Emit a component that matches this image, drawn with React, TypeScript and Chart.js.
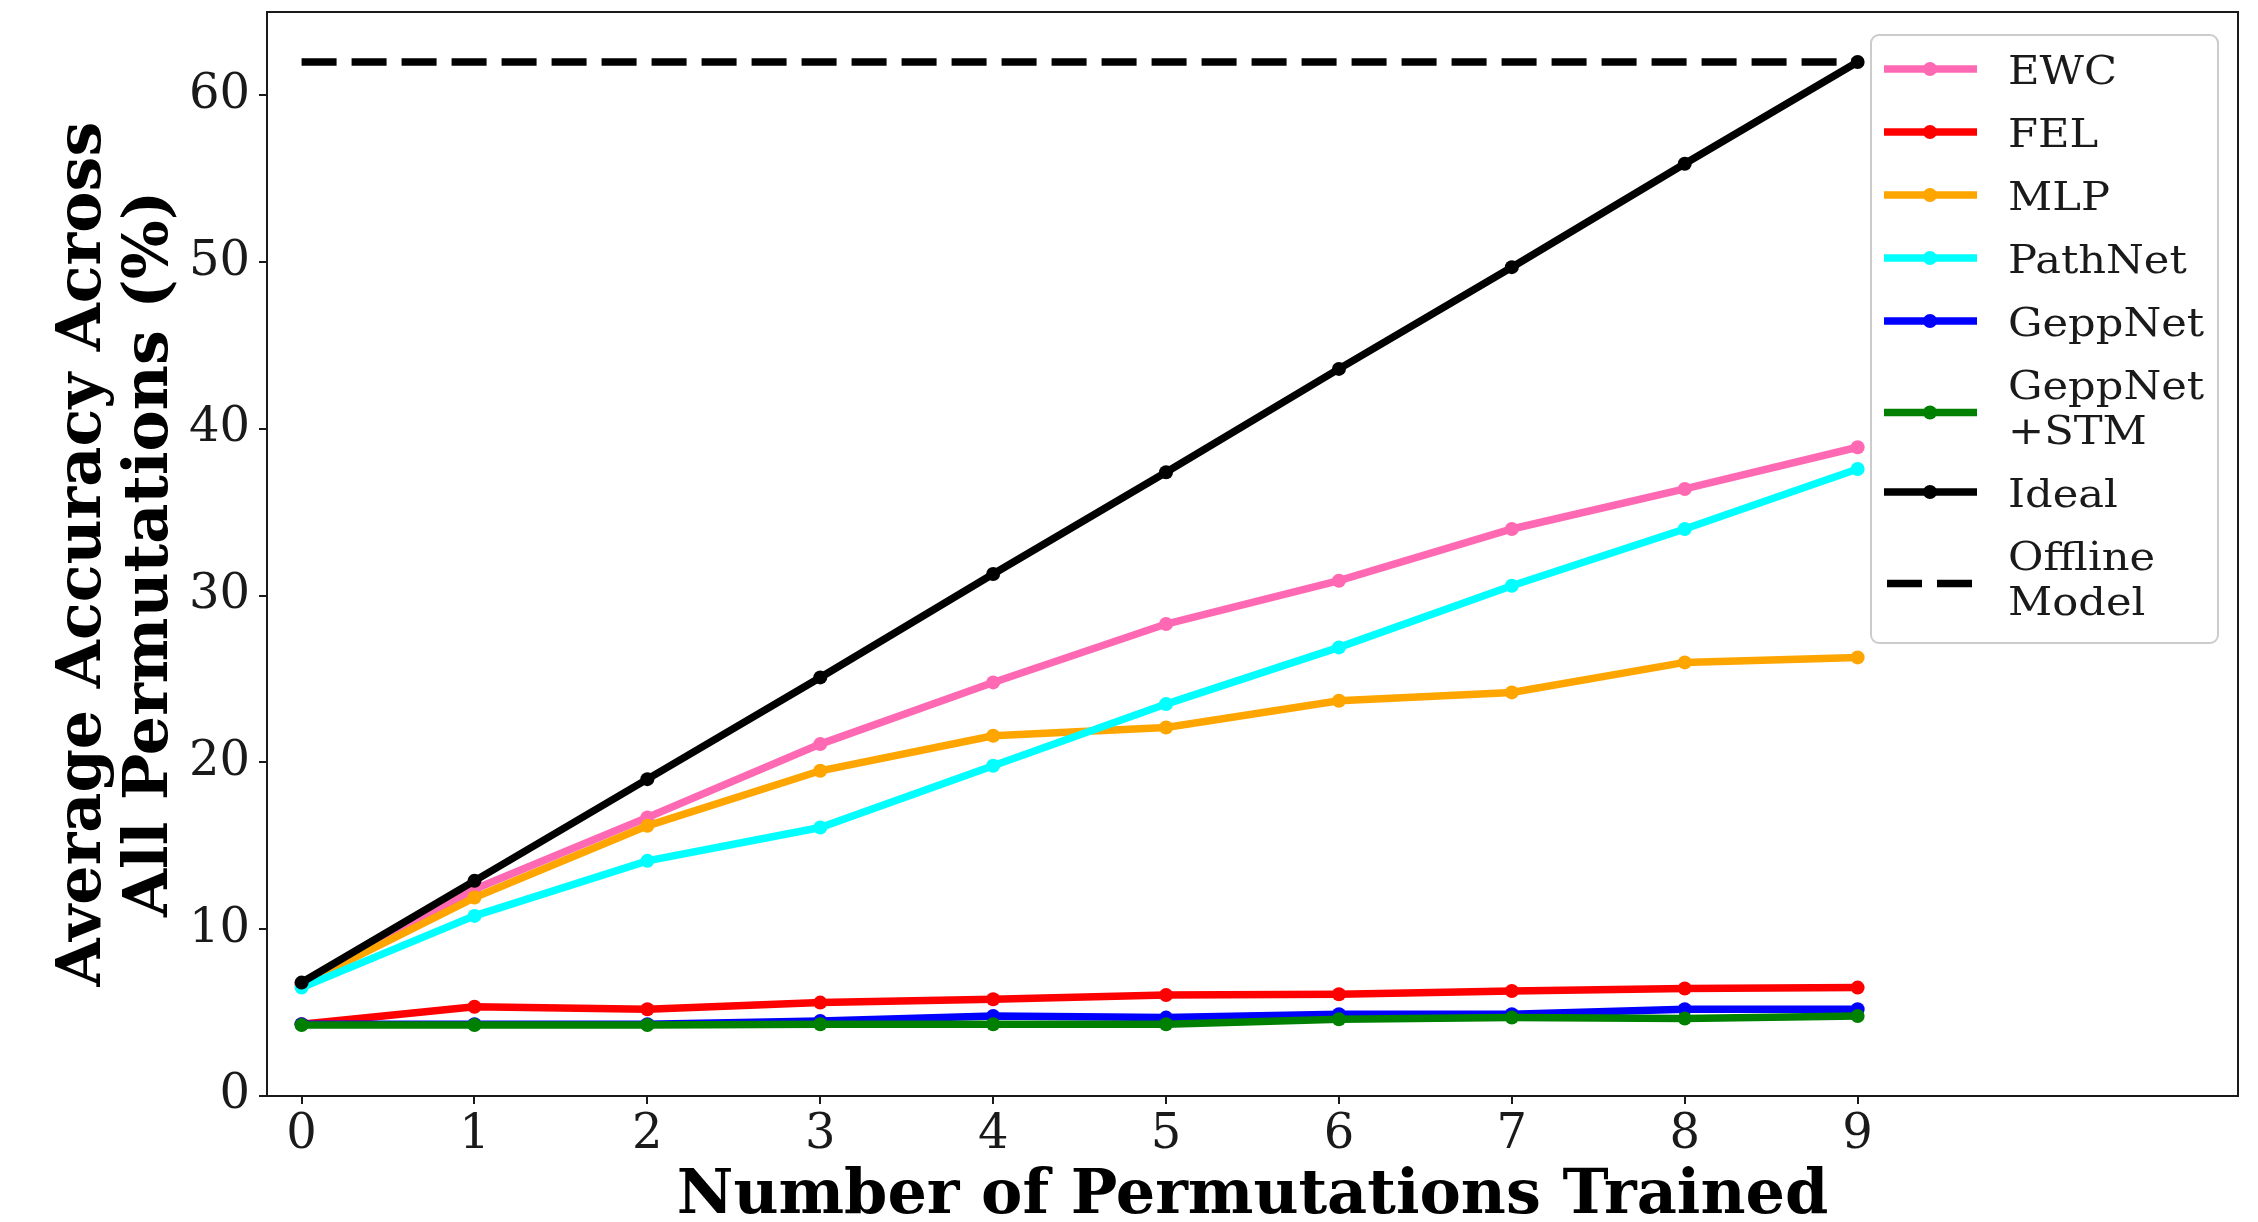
import React, { useEffect, useRef } from "react";
import { Chart, registerables } from "chart.js";

Chart.register(...registerables);

const permutations = [0, 1, 2, 3, 4, 5, 6, 7, 8, 9];
const ewc = [6.7, 12.4, 16.7, 21.1, 24.8, 28.3, 30.9, 34.0, 36.4, 38.9];
const fel = [4.3, 5.35, 5.2, 5.6, 5.8, 6.05, 6.1, 6.3, 6.45, 6.5];
const mlp = [6.7, 11.9, 16.2, 19.5, 21.6, 22.1, 23.7, 24.2, 26.0, 26.3];
const pathnet = [6.5, 10.8, 14.1, 16.1, 19.8, 23.5, 26.9, 30.6, 34.0, 37.6];
const geppnet = [4.3, 4.3, 4.3, 4.5, 4.8, 4.7, 4.9, 4.9, 5.2, 5.2];
const geppnetStm = [4.25, 4.25, 4.25, 4.3, 4.3, 4.3, 4.6, 4.7, 4.65, 4.8];
const ideal = [6.8, 12.9, 19.0, 25.1, 31.3, 37.4, 43.6, 49.7, 55.9, 62.0];
const offlineX = [0, 9];
const offlineY = [62.0, 62.0];

const seriesLabels = [
  ["EWC"],
  ["FEL"],
  ["MLP"],
  ["PathNet"],
  ["GeppNet"],
  ["GeppNet", "+STM"],
  ["Ideal"],
  ["Offline", "Model"],
];
const seriesColors = ["#ff69b4", "#ff0000", "#ffa500", "#00ffff", "#0000ff", "#008000", "#000000", "#000000"];
const xTitle = "Number of Permutations Trained";
const yTitleLines = ["Average Accuracy Across", "All Permutations (%)"];
const yTicks = [0, 10, 20, 30, 40, 50, 60];
const xTicks = permutations;

const LW = 7.5;
const PR = 7;

const pts = (xs: number[], ys: number[]) => xs.map((x, i) => ({ x, y: ys[i] }));

const decorPlugin = {
  id: "decor",
  afterDraw(chart: any) {
    const ctx = chart.ctx as CanvasRenderingContext2D;
    const a = chart.chartArea;
    ctx.save();
    ctx.strokeStyle = "#1a1a1a";
    ctx.lineWidth = 2;
    ctx.beginPath();
    ctx.moveTo(a.left, a.top);
    ctx.lineTo(a.right, a.top);
    ctx.lineTo(a.right, a.bottom);
    ctx.stroke();

    ctx.fillStyle = "#000";
    ctx.font = "bold 62px 'DejaVu Serif'";
    ctx.textAlign = "center";
    ctx.textBaseline = "alphabetic";
    ctx.fillText(xTitle, (a.left + a.right) / 2, 1213);

    const cy = (a.top + a.bottom) / 2;
    const baseXs = [100, 167];
    yTitleLines.forEach((t, i) => {
      ctx.save();
      ctx.translate(baseXs[i], cy);
      ctx.rotate(-Math.PI / 2);
      ctx.fillText(t, 0, 0);
      ctx.restore();
    });

    const bx = 1871, by = 35, bw = 2218 - 1871, bh = 643 - 35;
    ctx.beginPath();
    (ctx as any).roundRect(bx, by, bw, bh, 8);
    ctx.fillStyle = "rgba(255,255,255,0.85)";
    ctx.fill();
    ctx.strokeStyle = "#cccccc";
    ctx.lineWidth = 2;
    ctx.stroke();

    let cursor = 37.5;
    const rowH = 63;
    const lineGap = 45;
    seriesLabels.forEach((lines, i) => {
      const n = lines.length;
      const blockH = rowH + lineGap * (n - 1);
      const center = cursor + blockH / 2;
      const hy = center + (n > 1 ? 6 : 0);
      const color = seriesColors[i];
      ctx.strokeStyle = color;
      ctx.lineWidth = LW;
      ctx.lineCap = "butt";
      if (i === seriesLabels.length - 1) {
        ctx.setLineDash([35, 15]);
        ctx.beginPath();
        ctx.moveTo(1887, hy);
        ctx.lineTo(1972, hy);
        ctx.stroke();
        ctx.setLineDash([]);
      } else {
        ctx.beginPath();
        ctx.moveTo(1884, hy);
        ctx.lineTo(1977, hy);
        ctx.stroke();
        ctx.fillStyle = color;
        ctx.beginPath();
        ctx.arc(1930, hy, PR, 0, Math.PI * 2);
        ctx.fill();
      }
      ctx.fillStyle = "#1a1a1a";
      ctx.font = "40px 'DejaVu Serif'";
      ctx.textAlign = "left";
      ctx.textBaseline = "alphabetic";
      lines.forEach((t, k) => {
        const capC = center - (lineGap * (n - 1)) / 2 + lineGap * k;
        ctx.save();
        ctx.translate(2008, capC + 14.5);
        ctx.scale(1.08, 1);
        ctx.fillText(t, 0, 0);
        ctx.restore();
      });
      cursor += blockH;
    });
    ctx.restore();
  },
};

export default function App() {
  const ref = useRef<HTMLCanvasElement | null>(null);
  useEffect(() => {
    if (!ref.current) return;
    const series = [ewc, fel, mlp, pathnet, geppnet, geppnetStm, ideal];
    const datasets: any[] = series.map((ys, i) => ({
      label: seriesLabels[i].join(" "),
      data: pts(permutations, ys),
      borderColor: seriesColors[i],
      backgroundColor: seriesColors[i],
      pointBackgroundColor: seriesColors[i],
      pointBorderWidth: 0,
      pointRadius: PR,
      borderWidth: LW,
      tension: 0,
      fill: false,
      order: 20 - i,
    }));
    datasets.push({
      label: seriesLabels[7].join(" "),
      data: pts(offlineX, offlineY),
      borderColor: seriesColors[7],
      backgroundColor: seriesColors[7],
      borderDash: [35, 15],
      borderCapStyle: "butt",
      pointRadius: 0,
      borderWidth: LW,
      tension: 0,
      fill: false,
      order: 0,
    });
    const chart = new Chart(ref.current, {
      type: "line",
      data: { datasets },
      plugins: [decorPlugin],
      options: {
        animation: false,
        responsive: false,
        devicePixelRatio: 1,
        layout: { padding: { left: 0, top: 12, right: 20, bottom: 0 } },
        plugins: { legend: { display: false }, tooltip: { enabled: false } },
        scales: {
          x: {
            type: "linear",
            min: -0.2,
            max: 11.2,
            afterBuildTicks: (s: any) => {
              s.ticks = xTicks.map((v) => ({ value: v }));
            },
            afterFit: (s: any) => {
              s.height = 126;
              s.paddingLeft = 0;
              s.paddingRight = 0;
            },
            border: { display: true, color: "#1a1a1a", width: 2 },
            grid: { display: true, drawOnChartArea: false, drawTicks: true, tickLength: 8, color: "#1a1a1a", lineWidth: 2 },
            ticks: {
              color: "#1a1a1a",
              padding: 8,
              maxRotation: 0,
              autoSkip: false,
              font: { family: "'DejaVu Serif'", size: 48, lineHeight: 1 },
              callback: (v: any) => String(v),
            },
          },
          y: {
            type: "linear",
            min: 0,
            max: 65,
            afterBuildTicks: (s: any) => {
              s.ticks = yTicks.map((v) => ({ value: v }));
            },
            afterFit: (s: any) => {
              s.width = 267;
              s.paddingTop = 0;
              s.paddingBottom = 0;
            },
            border: { display: true, color: "#1a1a1a", width: 2 },
            grid: { display: true, drawOnChartArea: false, drawTicks: true, tickLength: 8, color: "#1a1a1a", lineWidth: 2 },
            ticks: {
              color: "#1a1a1a",
              padding: 9,
              font: { family: "'DejaVu Serif'", size: 48, lineHeight: 1 },
              callback: (v: any) => String(v),
            },
          },
        },
      },
    });
    return () => chart.destroy();
  }, []);
  return (
    <div style={{ position: "absolute", left: 0, top: 0, width: 2258, height: 1222, background: "#fff" }}>
      <canvas ref={ref} width={2258} height={1222} style={{ width: 2258, height: 1222 }} />
    </div>
  );
}
